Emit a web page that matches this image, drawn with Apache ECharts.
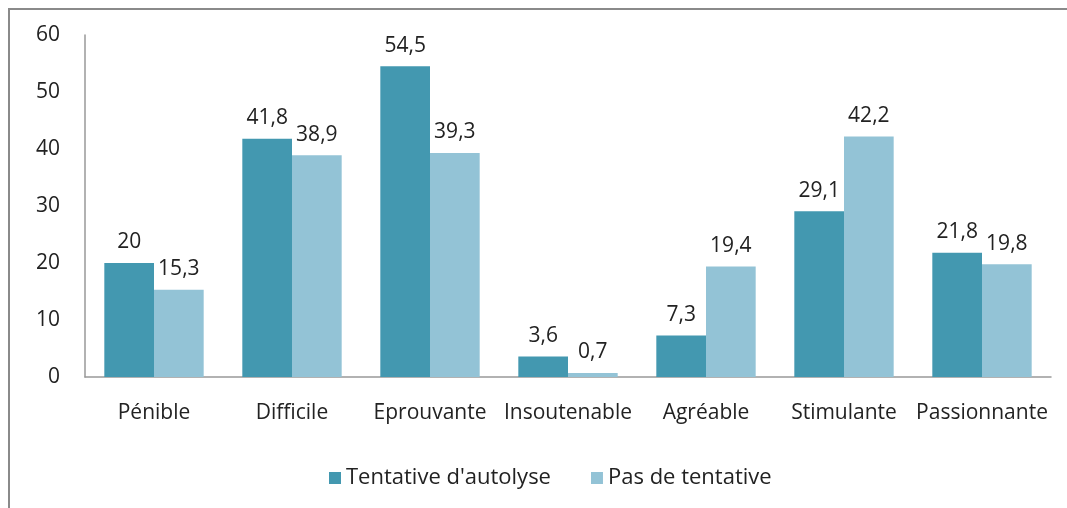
<!DOCTYPE html>
<html>
<head>
<meta charset="utf-8">
<script src="https://cdn.jsdelivr.net/npm/echarts@6/dist/echarts.min.js"></script>
<style>
  html, body { margin: 0; padding: 0; background: #fff; }
  #frame {
    position: absolute; left: 8px; top: 8px; width: 1070px; height: 510px;
    border-top: 2px solid #8a8a8a; border-left: 2px solid #8a8a8a;
  }
  #main { position: absolute; left: 0; top: 0; width: 1067px; height: 508px; }
</style>
</head>
<body>
<div id="frame"></div>
<div id="main"></div>
<script>
var categories = ['Pénible', 'Difficile', 'Eprouvante', 'Insoutenable', 'Agréable', 'Stimulante', 'Passionnante'];
var tentative = [20, 41.8, 54.5, 3.6, 7.3, 29.1, 21.8];
var pasTentative = [15.3, 38.9, 39.3, 0.7, 19.4, 42.2, 19.8];
var seriesNames = ["Tentative d'autolyse", 'Pas de tentative'];

var font = '"Open Sans", "DejaVu Sans", sans-serif';
var fs = 21;

function fmt(p) {
  return String(p.value).replace('.', ',');
}

var chart = echarts.init(document.getElementById('main'));
var option = {
  animation: false,
  textStyle: { fontFamily: font },
  grid: { left: 85, right: 16, top: 35, bottom: 131 },
  legend: {
    top: 462,
    left: 324,
    itemWidth: 12,
    itemHeight: 12,
    itemGap: 40,
    itemTextGap: 7,
    icon: 'rect',
    textStyle: { fontSize: 22, color: '#222', fontFamily: font },
    data: seriesNames
  },
  xAxis: {
    type: 'category',
    data: categories,
    axisLine: { lineStyle: { color: '#999', width: 1.5 } },
    axisTick: { show: false },
    axisLabel: { fontSize: fs, color: '#222', margin: 26, interval: 0, fontFamily: font }
  },
  yAxis: {
    type: 'value',
    min: 0,
    max: 60,
    interval: 10,
    splitLine: { show: false },
    axisLine: { show: true, lineStyle: { color: '#999', width: 1.5 } },
    axisTick: { show: false },
    axisLabel: { fontSize: fs, color: '#222', margin: 25, fontFamily: font }
  },
  series: [
    {
      name: seriesNames[0],
      type: 'bar',
      data: tentative,
      barGap: '0%',
      barCategoryGap: '28%',
      itemStyle: { color: '#4398B0' },
      label: { show: true, position: 'top', fontSize: fs, color: '#222', distance: 10, formatter: fmt, fontFamily: font }
    },
    {
      name: seriesNames[1],
      type: 'bar',
      data: pasTentative,
      barGap: '0%',
      barCategoryGap: '28%',
      itemStyle: { color: '#93C3D6' },
      label: { show: true, position: 'top', fontSize: fs, color: '#222', distance: 10, formatter: fmt, fontFamily: font }
    }
  ]
};
option && chart.setOption(option);
</script>
</body>
</html>
